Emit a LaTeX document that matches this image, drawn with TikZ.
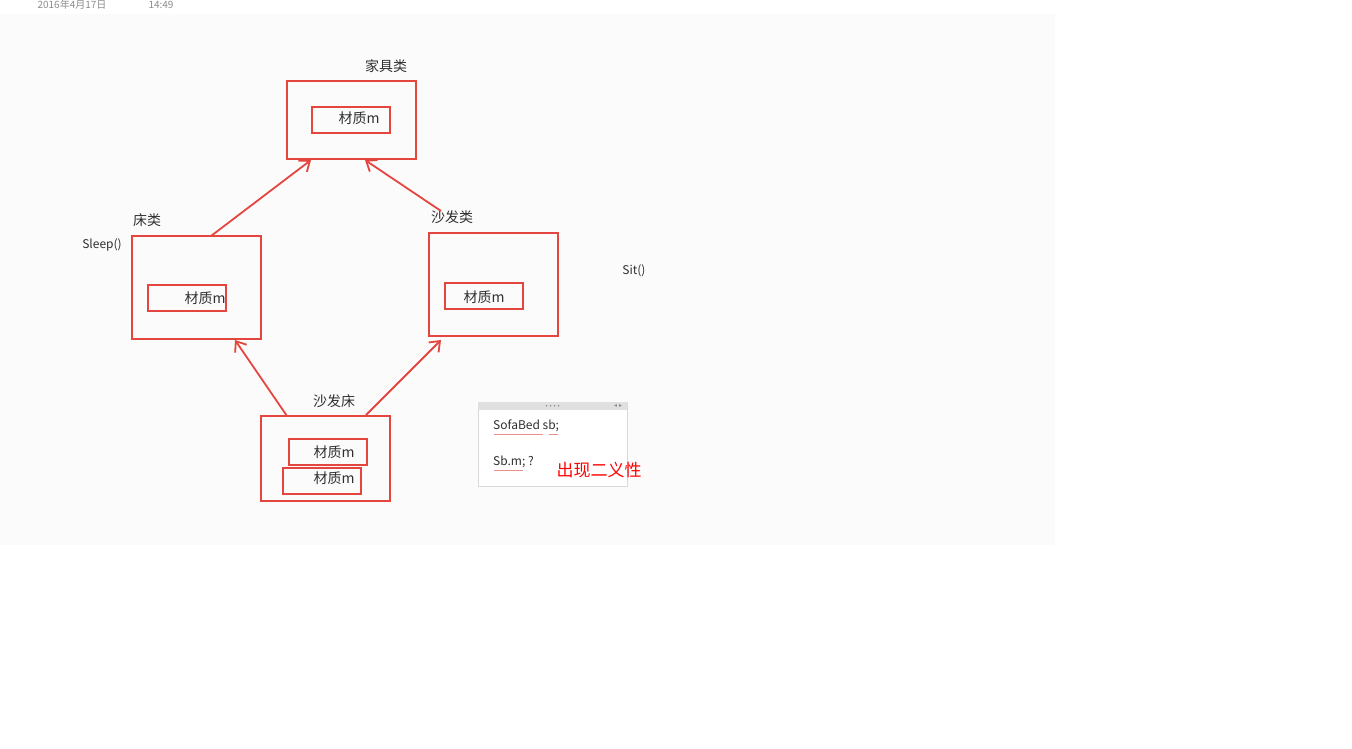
\documentclass[tikz,border=0pt]{standalone}
\usepackage{fontspec}
\setmainfont{Noto Sans CJK SC}
\newfontfamily\symfont{DejaVu Sans}
\usetikzlibrary{arrows.meta}
\definecolor{pen}{HTML}{E5453F}
\definecolor{txt}{HTML}{303030}
\tikzset{
  outerbox/.style={draw=pen, line width=2pt, minimum width=129pt, inner sep=0pt},
  innerbox/.style={draw=pen, line width=2pt, minimum width=78pt, minimum height=26pt, inner sep=0pt},
  lbl/.style={text=txt, font=\fontsize{14}{16}\selectfont, inner sep=0pt},
  mlbl/.style={text=txt, font=\fontsize{14}{16}\selectfont, inner sep=0pt},
  small/.style={text=txt, font=\fontsize{12}{14}\selectfont, inner sep=0pt},
  inh/.style={draw=pen, line width=1.8pt, -{Straight Barb[length=9pt,width=14pt,line width=1.8pt]}},
}
\begin{document}
\begin{tikzpicture}[x=1pt,y=-1pt]
\useasboundingbox (0,0) rectangle (1352,749);
\fill[white] (0,0) rectangle (1352,749);
\fill[black!1.5] (0,14) rectangle (1055,545);
% date
\node[text=black!45, font=\fontsize{10}{12}\selectfont, inner sep=0pt] (date) at (72,5) {2016年4月17日};
\node[text=black!45, font=\fontsize{10}{12}\selectfont, inner sep=0pt] (time) at (161,5) {14:49};
% furniture
\node[outerbox, minimum height=78pt] (jj) at (351.5,120) {};
\node[innerbox] (jjm) at (351,120) {};
\node[mlbl] at (359,118) {材质m};
\node[lbl] (jjl) at (386,66) {家具类};
% bed
\node[outerbox, minimum height=103pt] (bed) at (196.5,287.5) {};
\node[innerbox] (bedm) at (187,298) {};
\node[mlbl] at (205,298) {材质m};
\node[lbl] (bedl) at (147,220) {床类};
\node[small] (sleep) at (102,245) {Sleep()};
% sofa
\node[outerbox, minimum height=103pt] (sofa) at (493.5,284.5) {};
\node[innerbox] (sofam) at (484,295.5) {};
\node[mlbl] at (484,297) {材质m};
\node[lbl] (sofal) at (452,217) {沙发类};
\node[small] (sit) at (634,271) {Sit()};
% sofabed
\node[outerbox, minimum height=85pt] (sb) at (325.5,458.5) {};
\node[innerbox] (sbm1) at (327.5,451.5) {};
\node[mlbl] at (334,452) {材质m};
\node[innerbox] (sbm2) at (321.5,481) {};
\node[mlbl] at (334,478) {材质m};
\node[lbl] (sbl) at (334,401) {沙发床};
% arrows
\coordinate (a1s) at (211,236);
\coordinate (a1e) at (311,160);
\coordinate (a2s) at (441,211);
\coordinate (a2e) at (365,160);
\coordinate (a3s) at (287,416);
\coordinate (a3e) at (235,340);
\coordinate (a4s) at (366,415);
\coordinate (a4e) at (441,340);
\draw[inh] (a1s) -- (a1e);
\draw[inh] (a2s) -- (a2e);
\draw[inh] (a3s) -- (a3e);
\draw[inh] (a4s) -- (a4e);
% note panel
\node[draw=black!15, fill=white, minimum width=149pt, minimum height=84pt, inner sep=0pt] (note) at (552.5,444) {};
\fill[black!12] (note.north west) rectangle ([yshift=-8pt]note.north east);
\foreach \dx in {-6,-2,2,6} \fill[black!45] ([xshift=\dx pt, yshift=-4pt]note.north) circle (0.9pt);
\node[text=black!45, font=\symfont\fontsize{6}{7}\selectfont, inner sep=0pt] at ([xshift=-9pt, yshift=-4pt]note.north east) {◂ ▸};
\node[small, anchor=west] (n1) at (493,426) {SofaBed sb;};
\node[small, anchor=west] (n2) at (493,462) {Sb.m; ?};
\draw[pen!60] (494,434) -- (543,434);
\draw[pen!60] (549,434) -- (558,434);
\draw[pen!60] (494,470) -- (523,470);
\node[text=red, font=\fontsize{17}{19}\selectfont, inner sep=0pt] (amb) at (599,470) {出现二义性};
\end{tikzpicture}
\end{document}
